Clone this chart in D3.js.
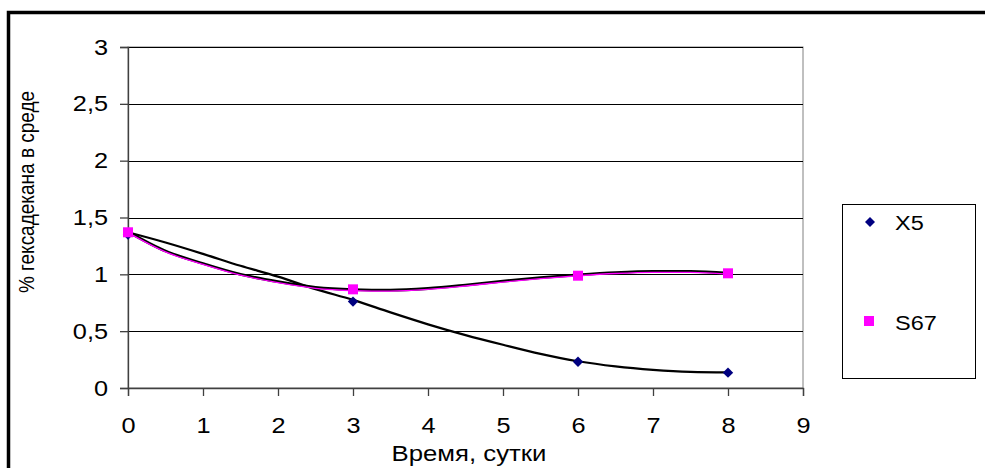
<!DOCTYPE html>
<html><head><meta charset="utf-8">
<script src="https://cdn.jsdelivr.net/npm/d3@7"></script>
<style>html,body{margin:0;padding:0;background:#fff;overflow:hidden}svg{display:block}text{font-family:"Liberation Sans",Arial,sans-serif;fill:#000}</style>
</head><body><svg id="c" width="985" height="468"></svg>
<script>
// Data
const days = [0, 3, 6, 8];
const seriesX5 = [1.35, 0.76, 0.231, 0.135];
const seriesS67 = [1.37, 0.868, 0.988, 1.009];
// trend curves
const trendX = [0, 0.5, 1, 1.5, 2, 2.5, 3, 3.5, 4, 4.5, 5, 5.5, 6, 6.5, 7, 7.5, 8];
const trendX5 = [1.37, 1.28, 1.18, 1.075, 0.98, 0.87, 0.775, 0.665, 0.56, 0.465, 0.38, 0.30, 0.235, 0.19, 0.16, 0.142, 0.137];
const trendS67 = [1.37, 1.20, 1.09, 0.995, 0.93, 0.88, 0.86, 0.855, 0.87, 0.90, 0.935, 0.965, 0.99, 1.01, 1.02, 1.02, 1.005];
const xTicks = [0, 1, 2, 3, 4, 5, 6, 7, 8, 9];
const yTicks = [0, 0.5, 1, 1.5, 2, 2.5, 3];
const yTickLabels = ["0", "0,5", "1", "1,5", "2", "2,5", "3"];
const legendNames = ["X5", "S67"];

const SX = 1.15; // horizontal stretch of the text in the reference
const svg = d3.select("#c");
const x = d3.scaleLinear().domain([0, 9]).range([128, 803]);
const y = d3.scaleLinear().domain([0, 3]).range([388, 47]);

// outer border
svg.append("rect").attr("x", 8.5).attr("y", 12.5).attr("width", 1000).attr("height", 500)
  .attr("fill", "none").attr("stroke", "#000").attr("stroke-width", 3.5);

// plot area border
svg.append("rect").attr("x", x(0)).attr("y", y(3)).attr("width", x(9) - x(0)).attr("height", y(0) - y(3))
  .attr("fill", "none").attr("stroke", "#808080").attr("stroke-width", 1);

// gridlines
svg.append("g").selectAll("line").data(yTicks.filter(d => d > 0)).join("line")
  .attr("x1", x(0)).attr("x2", x(9))
  .attr("y1", d => Math.round(y(d)) + 0.5).attr("y2", d => Math.round(y(d)) + 0.5)
  .attr("stroke", "#000").attr("stroke-width", 1);

// y axis
const yAxis = d3.axisLeft(y).tickValues(yTicks).tickSize(8).tickPadding(12)
  .tickFormat((d, i) => yTickLabels[i]);
const gy = svg.append("g").attr("transform", `translate(${x(0)},0)`).call(yAxis);
gy.selectAll("path, line").attr("stroke", "#404040").attr("stroke-width", 1.3);
gy.selectAll("text").style("font-size", "22px").attr("font-family", "Liberation Sans, Arial, sans-serif")
  .attr("x", -20 / SX).attr("transform", `scale(${SX},1)`);

// x axis
const xAxis = d3.axisBottom(x).tickValues(xTicks).tickSize(8).tickPadding(21).tickFormat(d => String(d));
const gx = svg.append("g").attr("transform", `translate(0,${y(0)})`).call(xAxis);
gx.selectAll("path, line").attr("stroke", "#404040").attr("stroke-width", 1.3);
gx.selectAll("text").style("font-size", "22px").attr("font-family", "Liberation Sans, Arial, sans-serif")
  .attr("transform", `scale(${SX},1)`);

// axis titles
svg.append("text").attr("transform", `translate(469,461) scale(1.17,1)`).attr("text-anchor", "middle")
  .style("font-size", "22px").text("Время, сутки");
svg.append("text").attr("transform", "translate(33.5,192) rotate(-90) scale(1,1.18)").attr("text-anchor", "middle")
  .style("font-size", "19px").text("% гексадекана в среде");

// curves
const line = d3.line().x(d => x(d[0])).y(d => y(d[1])).curve(d3.curveMonotoneX);
const tX5 = trendX.map((d, i) => [d, trendX5[i]]);
const tS67 = trendX.map((d, i) => [d, trendS67[i]]);
svg.append("path").attr("d", line(tX5)).attr("fill", "none").attr("stroke", "#000").attr("stroke-width", 2.2);
svg.append("path").attr("d", line(tS67)).attr("fill", "none").attr("stroke", "#000").attr("stroke-width", 2.8)
  .attr("transform", "translate(0,-0.6)");
svg.append("path").attr("d", line(tS67)).attr("fill", "none").attr("stroke", "#FF00FF").attr("stroke-width", 1.3)
  .attr("transform", "translate(0,0.3)");

// markers
const diamond = s => `M0,${-s}L${s},0L0,${s}L${-s},0Z`;
svg.append("g").selectAll("path").data(days.map((d, i) => [d, seriesX5[i]])).join("path")
  .attr("transform", d => `translate(${x(d[0])},${y(d[1])})`).attr("d", diamond(5.2)).attr("fill", "#000080");
svg.append("g").selectAll("rect").data(days.map((d, i) => [d, seriesS67[i]])).join("rect")
  .attr("x", d => x(d[0]) - 5).attr("y", d => y(d[1]) - 5).attr("width", 10).attr("height", 10).attr("fill", "#FF00FF");

// legend
svg.append("rect").attr("x", 842.5).attr("y", 204.5).attr("width", 133).attr("height", 174)
  .attr("fill", "#fff").attr("stroke", "#000").attr("stroke-width", 1);
svg.append("path").attr("transform", "translate(870,222)").attr("d", diamond(5)).attr("fill", "#000080");
svg.append("rect").attr("x", 864).attr("y", 316).attr("width", 10).attr("height", 10).attr("fill", "#FF00FF");
svg.append("text").attr("transform", "translate(895,230) scale(1.12,1)").style("font-size", "21px").text(legendNames[0]);
svg.append("text").attr("transform", "translate(895,330) scale(1.12,1)").style("font-size", "21px").text(legendNames[1]);
</script></body></html>
